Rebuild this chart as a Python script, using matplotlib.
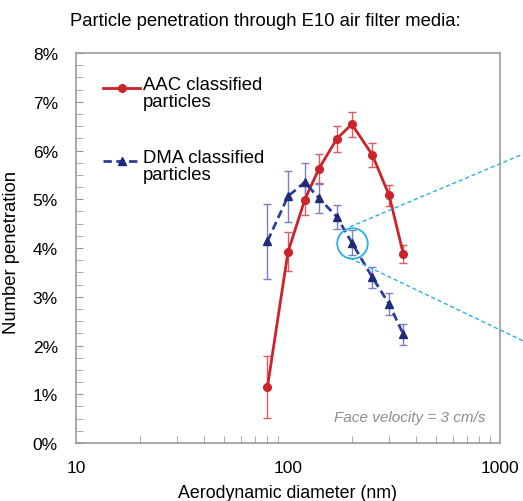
import matplotlib
matplotlib.use('Agg')
from matplotlib import pyplot as plt
from matplotlib.lines import Line2D
from matplotlib.ticker import MultipleLocator, LogLocator, FixedLocator

plt.rcParams['font.family'] = ['Liberation Sans', 'DejaVu Sans']

# aerodynamic diameter (nm)
diam = [80, 100, 120, 140, 170, 200, 250, 300, 350]

# penetration (%) and error
aac_pen = [1.15, 3.92, 4.99, 5.63, 6.24, 6.54, 5.91, 5.08, 3.88]
aac_err = [0.63, 0.40, 0.32, 0.30, 0.27, 0.26, 0.25, 0.21, 0.18]
dma_pen = [4.14, 5.06, 5.35, 5.02, 4.64, 4.11, 3.40, 2.85, 2.23]
dma_err = [0.77, 0.52, 0.40, 0.30, 0.24, 0.25, 0.21, 0.22, 0.22]

yticks = [0, 1, 2, 3, 4, 5, 6, 7, 8]
ytick_labels = ['%d%%' % v for v in yticks]

red = '#CC2229'
red_light = '#E05A5F'
navy = '#1F2B78'
navy_light = '#7B80C2'
cyan = '#2AAFE6'
grey = '#9A9A9A'

fig = plt.figure(figsize=(5.23, 5.02), dpi=100)
ax = fig.add_axes([0.1453, 0.1155, 0.8107, 0.7769])

ax.errorbar(diam, aac_pen, yerr=aac_err, fmt='none', ecolor=red_light,
            elinewidth=1, capsize=3, capthick=1, zorder=2)
ax.errorbar(diam, dma_pen, yerr=dma_err, fmt='none', ecolor=navy_light,
            elinewidth=1, capsize=3, capthick=1, zorder=2)
ax.plot(diam, aac_pen, '-o', color=red, lw=2, ms=5.5, zorder=3)
ax.plot(diam, dma_pen, '--^', color='#2E3D9A', mfc=navy, mec=navy,
        lw=2, ms=6, dashes=(3, 1.6), zorder=3)

# highlight circle on 200 nm DMA point
ax.plot([diam[5]], [dma_pen[5]], 'o', ms=22, mfc='none', mec=cyan, mew=1.3, zorder=4)
for y0, y1 in [(0.546, 0.691), (0.484, 0.319)]:
    fig.add_artist(Line2D([0.669, 1.0], [y0, y1], transform=fig.transFigure,
                          color=cyan, lw=1, ls=(0, (3, 2))))

ax.set_xscale('log')
ax.set_xlim(10, 1000)
ax.set_ylim(0, 8)
ax.set_yticks(yticks)
ax.set_yticklabels(ytick_labels)
ax.yaxis.set_minor_locator(MultipleLocator(0.25))
ax.xaxis.set_major_locator(FixedLocator([10, 100, 1000]))
ax.set_xticklabels(['10', '100', '1000'])
ax.xaxis.set_minor_locator(LogLocator(base=10, subs=range(2, 10)))

ax.tick_params(which='both', direction='in', color=grey, labelsize=12.5,
               top=False, right=False)
ax.tick_params(axis='y', which='major', length=5, pad=13)
ax.tick_params(axis='y', which='minor', length=5)
ax.tick_params(axis='x', which='major', length=0, pad=12)
ax.tick_params(axis='x', which='minor', length=5)
for sp in ax.spines.values():
    sp.set_color(grey)
    sp.set_linewidth(1.2)

ax.set_xlabel('Aerodynamic diameter (nm)', fontsize=12.8, labelpad=7)
fig.text(0.038, 0.498, 'Number penetration', rotation=90, fontsize=13.3,
         ha='right', va='center')
fig.suptitle('Particle penetration through E10 air filter media:',
             fontsize=13.3, x=0.508, y=0.975)

# legend
for yy, col, style, mk, mc, txt in [
        (0.910, red, '-', 'o', red, 'AAC classified\nparticles'),
        (0.723, '#2E3D9A', '--', '^', navy, 'DMA classified\nparticles')]:
    ln = Line2D([0.064, 0.151], [yy, yy], transform=ax.transAxes, color=col,
                lw=2, ls=style)
    if style == '--':
        ln.set_dashes((3, 1.6))
    ax.add_line(ln)
    ax.plot([0.108], [yy], mk, color=mc, ms=5.5, transform=ax.transAxes)
    ax.text(0.157, yy + 0.03, txt, transform=ax.transAxes, fontsize=13.3,
            va='top', ha='left', linespacing=1.0)

ax.text(0.965, 0.067, 'Face velocity = 3 cm/s', transform=ax.transAxes,
        fontsize=11, style='italic', color='#8C8C8C', ha='right', va='center')

fig.savefig('out.png', dpi=100)
